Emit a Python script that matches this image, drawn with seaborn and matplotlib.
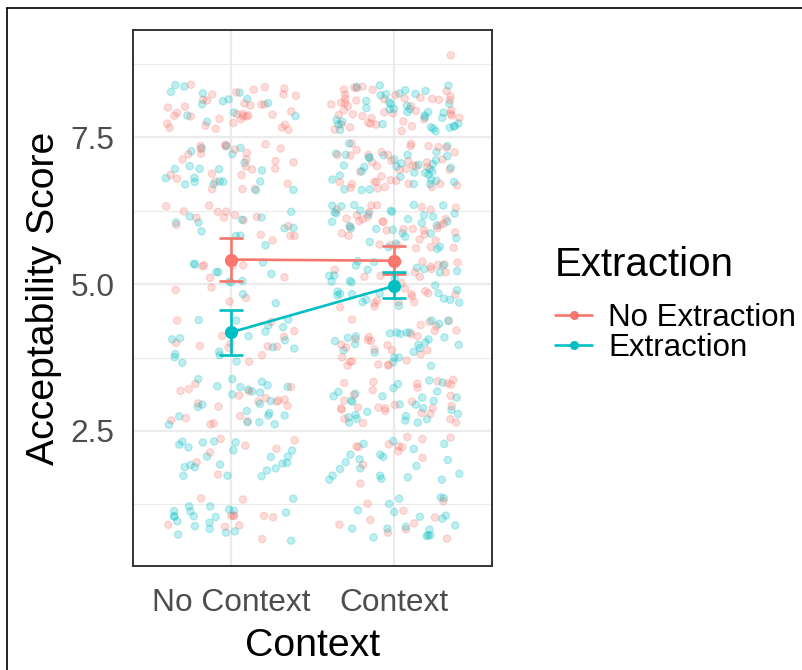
import numpy as np
import pandas as pd
import matplotlib
matplotlib.use("Agg")
import matplotlib.pyplot as plt
from matplotlib.lines import Line2D
import seaborn as sns

# ---------------- data ----------------
contexts = ["No Context", "Context"]
extractions = ["No Extraction", "Extraction"]
score_levels = [1, 2, 3, 4, 5, 6, 7, 8, 9]

# number of responses at each score level (1..9)
counts_nc_noext = [11, 7, 20, 13, 10, 16, 26, 36, 0]
counts_nc_ext = [20, 22, 24, 18, 11, 12, 21, 14, 0]
counts_c_noext = [10, 12, 28, 28, 25, 35, 40, 44, 1]
counts_c_ext = [18, 20, 28, 25, 30, 32, 36, 36, 0]

# condition means and error-bar limits
mean_noext = [5.42, 5.40]
low_noext = [5.05, 5.17]
high_noext = [5.78, 5.65]
mean_ext = [4.18, 4.97]
low_ext = [3.79, 4.76]
high_ext = [4.56, 5.20]

RED = "#F8766D"
TEAL = "#00BFC4"
palette = {"No Extraction": RED, "Extraction": TEAL}


def hash01(k, salt):
    """deterministic hash in [0, 1) used only for jitter offsets"""
    v = np.sin(k * 12.9898 + salt * 78.233) * 43758.5453
    return v - np.floor(v)


# ---------------- build raw table ----------------
rows = []
table = {
    ("No Context", "No Extraction"): counts_nc_noext,
    ("No Context", "Extraction"): counts_nc_ext,
    ("Context", "No Extraction"): counts_c_noext,
    ("Context", "Extraction"): counts_c_ext,
}
k = 0
for (ctx, ext), cnts in table.items():
    for lev, n in zip(score_levels, cnts):
        for j in range(n):
            k += 1
            jx = (hash01(k, 1.0) - 0.5) * 0.8
            jy = (hash01(k, 2.0) - 0.5) * 0.8
            if lev == 9:
                jy = -0.1
            rows.append(dict(Context=ctx, Extraction=ext, score=lev,
                             x=contexts.index(ctx) + jx, y=lev + jy,
                             order=hash01(k, 3.0)))
raw = pd.DataFrame(rows).sort_values("order")

means = pd.DataFrame({
    "Context": contexts * 2,
    "Extraction": ["No Extraction"] * 2 + ["Extraction"] * 2,
    "x": [0, 1, 0, 1],
    "mean": mean_noext + mean_ext,
    "low": low_noext + low_ext,
    "high": high_noext + high_ext,
})

# ---------------- figure ----------------
sns.set_theme(style="whitegrid")
plt.rcParams["font.family"] = ["Liberation Sans", "DejaVu Sans"]

fig = plt.figure(figsize=(8.03, 6.70), dpi=100)
ax = fig.add_axes([133 / 803, 1 - 566 / 670, 359 / 803, 536 / 670])
ax.set_facecolor("white")

sns.scatterplot(data=raw, x="x", y="y", hue="Extraction", palette=palette,
                s=28, alpha=0.25, linewidth=0.9, legend=False, ax=ax, zorder=3)
for c in ax.collections:
    c.set_edgecolors(c.get_facecolors())

for ext in extractions:
    sub = means[means.Extraction == ext]
    col = palette[ext]
    ax.errorbar(sub["x"], sub["mean"],
                yerr=[sub["mean"] - sub["low"], sub["high"] - sub["mean"]],
                fmt="none", ecolor=col, elinewidth=1.9, capsize=8.5, capthick=1.9, zorder=5)
sns.lineplot(data=means, x="x", y="mean", hue="Extraction", palette=palette,
             marker="o", markersize=9.5, markeredgewidth=0, linewidth=1.9,
             legend=False, ax=ax, zorder=6)

ax.set_xlim(-0.6, 1.6)
ax.set_ylim(0.2, 9.33)
ax.set_xticks([0, 1])
ax.set_xticklabels(contexts)
ax.set_yticks([2.5, 5.0, 7.5])
ax.set_yticklabels(["2.5", "5.0", "7.5"])
ax.set_yticks([1.25, 3.75, 6.25, 8.75], minor=True)
ax.grid(which="major", color="#EBEBEB", linewidth=1.6)
ax.grid(which="minor", axis="y", color="#EBEBEB", linewidth=0.8)
ax.grid(which="minor", axis="x", visible=False)
ax.set_axisbelow(True)
for sp in ax.spines.values():
    sp.set_color("#333333")
    sp.set_linewidth(1.4)
    sp.set_visible(True)
ax.tick_params(axis="x", which="major", length=5, width=1.2, color="#333333",
               labelsize=22.8, labelcolor="#4D4D4D", pad=11)
ax.tick_params(axis="y", which="major", length=5, width=1.2, color="#333333",
               labelsize=22.8, labelcolor="#4D4D4D", pad=8.5)
ax.tick_params(axis="both", which="minor", length=0)
ax.set_xlabel("Context", fontsize=28.3, color="black", labelpad=7)
ax.set_ylabel("Acceptability Score", fontsize=28.3, color="black", labelpad=6)

handles = [Line2D([], [], color=palette[e], marker="o", markersize=6.5, linewidth=1.9,
                  markeredgewidth=0) for e in extractions]
leg = fig.legend(handles, extractions, title="Extraction", loc="center left",
                 bbox_to_anchor=(533 / 803, 1 - 304.5 / 670), frameon=False,
                 fontsize=22.5, title_fontsize=29, handlelength=1.2, handletextpad=0.5,
                 labelspacing=0.0, borderpad=0.2)
leg._legend_box.align = "left"
leg._legend_box.sep = 13
leg.get_title().set_color("black")
for t in leg.get_texts():
    t.set_color("black")

# outer frame (top and left edges of the picture border)
fig.add_artist(Line2D([7.5 / 803, 7.5 / 803], [0, 1 - 8 / 670], color="black",
                      linewidth=1.2, transform=fig.transFigure))
fig.add_artist(Line2D([7.5 / 803, 1], [1 - 8 / 670, 1 - 8 / 670], color="black",
                      linewidth=1.2, transform=fig.transFigure))

fig.savefig("out.png", dpi=100, facecolor="white")
